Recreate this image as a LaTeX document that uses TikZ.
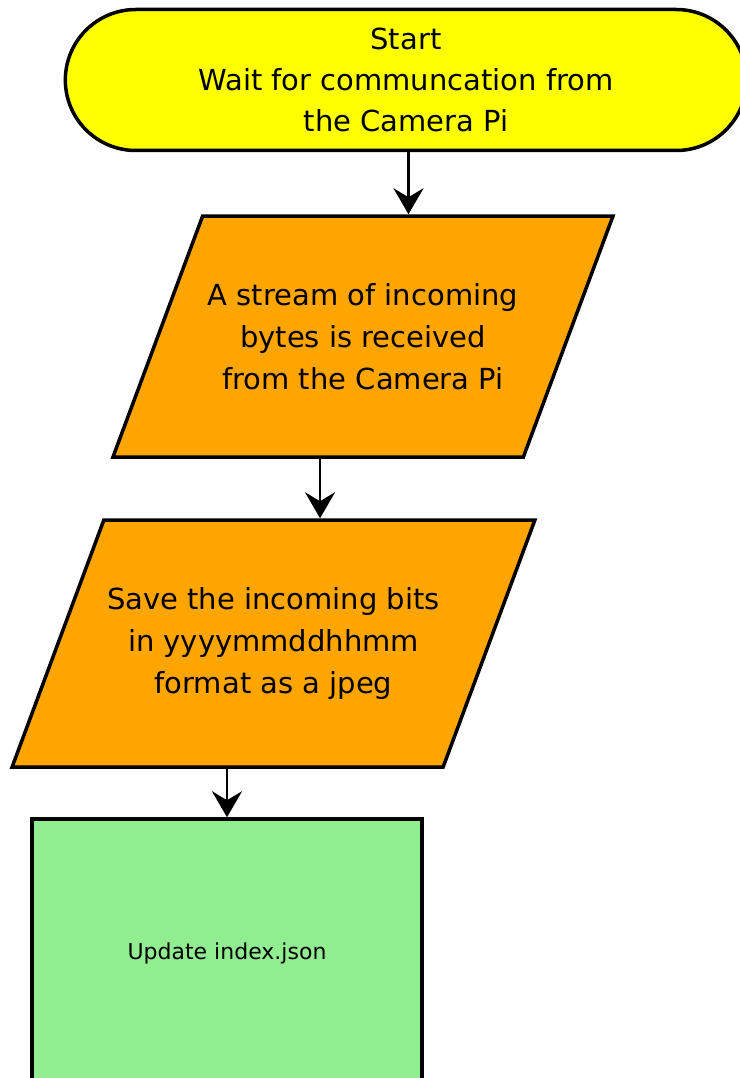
\documentclass[tikz,border=0pt]{standalone}
\usepackage{fontspec}
\setmainfont{DejaVu Sans}
\usetikzlibrary{positioning,shapes,arrows.meta}

\definecolor{startyellow}{HTML}{FFFF00}
\definecolor{ioorange}{HTML}{FFA500}
\definecolor{procgreen}{HTML}{90EE90}

\begin{document}
\begin{tikzpicture}[x=1pt,y=-1pt,
  terminal/.style={rounded rectangle,draw,line width=3.5,fill=startyellow,
    minimum width=688pt,minimum height=141pt,align=center,
    font=\fontsize{29}{41}\selectfont},
  io/.style={trapezium,trapezium stretches body,draw,line width=3.5,
    fill=ioorange,align=center,font=\fontsize{29}{42}\selectfont},
  process/.style={rectangle,draw,line width=3.5,fill=procgreen,align=center,
    minimum width=390pt,minimum height=268pt,font=\fontsize{22}{30}\selectfont},
  flow/.style={-{Stealth[length=26pt,width=30pt,inset=9pt]},line width=2.8}]
\useasboundingbox (0,0) rectangle (739,1078);

\node[terminal] (start) at (406,80) {Start\\Wait for communcation from\\the Camera Pi};
\node[io,trapezium left angle=51.6,trapezium right angle=128.4,
  minimum width=500pt,minimum height=241pt] (recv) at (363,336.5)
  {A stream of incoming\\bytes is received\\from the Camera Pi};
\node[io,trapezium left angle=52.3,trapezium right angle=127.7,
  minimum width=521pt,minimum height=247pt] (save) at (273.5,643.5)
  {Save the incoming bits\\in yyyymmddhhmm\\format as a jpeg};
\node[process] (upd) at (227,953) {Update index.json};

\draw[flow] (recv.top side |- start.south) -- (recv.top side);
\draw[flow] (save.top side |- recv.bottom side) -- (save.top side);
\draw[flow] (upd.north |- save.bottom side) -- (upd.north);
\end{tikzpicture}
\end{document}
